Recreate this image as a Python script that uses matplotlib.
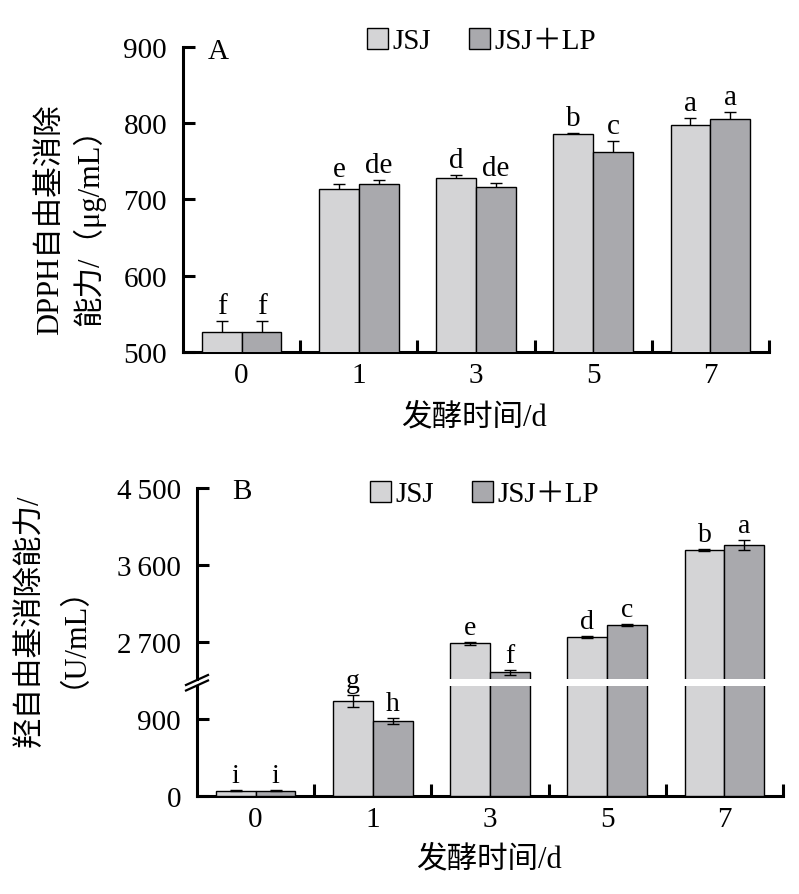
import matplotlib
matplotlib.use('Agg')
import matplotlib.pyplot as plt
from matplotlib.lines import Line2D
import numpy as np

plt.rcParams['font.family'] = ['Liberation Serif', 'Noto Sans CJK SC']
plt.rcParams['font.size'] = 21
plt.rcParams['axes.unicode_minus'] = False

# ---------------- data ----------------
days = ['0', '1', '3', '5', '7']
series = ['JSJ', 'JSJ＋LP']

dpph_jsj = [526, 714, 728, 786, 798]
dpph_jsj_err = [14, 6, 4, 1, 9]
dpph_lp = [526, 720, 716, 762, 805]
dpph_lp_err = [14, 6, 5, 15, 9]
dpph_jsj_sig = ['f', 'e', 'd', 'b', 'a']
dpph_lp_sig = ['f', 'de', 'de', 'c', 'a']

oh_jsj = [65, 1117, 2688, 2758, 3779]
oh_jsj_err = [5, 68, 20, 12, 8]
oh_lp = [65, 884, 2349, 2899, 3841]
oh_lp_err = [5, 35, 27, 12, 58]
oh_jsj_sig = ['i', 'g', 'e', 'd', 'b']
oh_lp_sig = ['i', 'h', 'f', 'c', 'a']

dpph_ticks = [500, 600, 700, 800, 900]
oh_ticks_low = [0, 900]
oh_ticks_high = [2700, 3600, 4500]
oh_tick_labels_low = ['0', '900']
oh_tick_labels_high = ['2\u2009700', '3\u2009600', '4\u2009500']

# ---------------- style ----------------
W, H = 799, 895
c1 = '#d4d4d6'
c2 = '#a9a9ad'
bw = 0.34
spw = 2.2

fig = plt.figure(figsize=(W / 100, H / 100), dpi=100)


def rect(l, r, t, b):
    return [l / W, 1 - b / H, (r - l) / W, (b - t) / H]


def draw(ax, v1, e1, v2, e2, s1, s2, err_behind, fs_sig):
    x = np.arange(len(days))
    b1 = ax.bar(x - bw / 2, v1, bw, color=c1, edgecolor='black', linewidth=1.0, zorder=3, label=series[0])
    b2 = ax.bar(x + bw / 2, v2, bw, color=c2, edgecolor='black', linewidth=1.0, zorder=3, label=series[1])
    ez = 2 if err_behind else 4
    for xx, v, e in ((x - bw / 2, v1, e1), (x + bw / 2, v2, e2)):
        ax.errorbar(xx, v, yerr=e, fmt='none', ecolor='black', elinewidth=1.0,
                    capsize=4.5, capthick=1.0, zorder=ez)
    for xx, v, e, s in ((x - bw / 2, v1, e1, s1), (x + bw / 2, v2, e2, s2)):
        for xi, vi, ei, si in zip(xx, v, e, s):
            ax.annotate(si, (xi, vi + ei), xytext=(0, 8), textcoords='offset pixels',
                        ha='center', va='baseline', fontsize=fs_sig, zorder=6)
    return b1, b2


def style_bottom(ax):
    ax.set_xlim(-0.5, 4.5)
    ax.set_xticks(np.arange(len(days)))
    ax.set_xticklabels(days)
    ax.set_xticks(np.arange(len(days)) + 0.5, minor=True)
    ax.tick_params(axis='x', which='major', length=0, pad=7)
    ax.tick_params(axis='x', which='minor', direction='in', length=8.6, width=spw)
    for s in ('top', 'right'):
        ax.spines[s].set_visible(False)
    for s in ('left', 'bottom'):
        ax.spines[s].set_linewidth(spw)
    ax.tick_params(axis='y', direction='in', length=8.6, width=spw, pad=11.5)


# ---------------- panel A ----------------
axA = fig.add_axes(rect(183, 769, 47.7, 353))
b1, b2 = draw(axA, dpph_jsj, dpph_jsj_err, dpph_lp, dpph_lp_err, dpph_jsj_sig, dpph_lp_sig, True, 21)
axA.set_ylim(500, 900)
axA.set_yticks(dpph_ticks)
style_bottom(axA)
axA.text(0.043, 0.986, 'A', transform=axA.transAxes, ha='left', va='center', fontsize=21)
axA.legend(handles=[b1, b2], loc='center left', bbox_to_anchor=((367 - 183) / 586, (353 - 42) / 305.3),
           ncol=2, frameon=False, borderpad=0, borderaxespad=0, handlelength=0.72, handleheight=0.72,
           handletextpad=0.15, columnspacing=1.3, fontsize=21)
fig.text(71 / W, 1 - 220 / H, 'DPPH自由基消除\n能力/（μg/mL）', rotation=90, ha='center', va='center',
         multialignment='center', linespacing=1.25, fontsize=22)
fig.text(474 / W, 1 - 418 / H, '发酵时间/d', ha='center', va='center', fontsize=22)

# ---------------- panel B (broken axis) ----------------
axL = fig.add_axes(rect(197, 783, 687, 797.3))
axU = fig.add_axes(rect(197, 783, 489.3, 680))
axU.patch.set_visible(False)
for ax in (axL, axU):
    bb1, bb2 = draw(ax, oh_jsj, oh_jsj_err, oh_lp, oh_lp_err, oh_jsj_sig, oh_lp_sig, False, 20)
axL.set_ylim(0, 1289)
axU.set_ylim(2271, 4500)
axL.set_yticks(oh_ticks_low)
axL.set_yticklabels(oh_tick_labels_low)
axU.set_yticks(oh_ticks_high)
axU.set_yticklabels(oh_tick_labels_high)
style_bottom(axL)
axL.spines['top'].set_visible(False)
axU.set_xlim(-0.5, 4.5)
for s in ('top', 'right', 'bottom'):
    axU.spines[s].set_visible(False)
axU.spines['left'].set_linewidth(spw)
axU.set_xticks([])
axU.tick_params(axis='y', direction='in', length=8.6, width=spw, pad=11.5)
axU.text(0.060, 0.986, 'B', transform=axU.transAxes, ha='left', va='center', fontsize=21)
axU.legend(handles=[bb1, bb2], loc='center left', bbox_to_anchor=((370 - 197) / 586, (680 - 495) / 190.7),
           ncol=2, frameon=False, borderpad=0, borderaxespad=0, handlelength=0.72, handleheight=0.72,
           handletextpad=0.15, columnspacing=1.3, fontsize=21)

# break marks on the y axis
for yc in (681, 686.5):
    fig.add_artist(Line2D([186 / W, 208 / W], [1 - (yc + 5) / H, 1 - (yc - 5) / H],
                          color='black', linewidth=1.6))

fig.text(45 / W, 1 - 621 / H, '羟自由基消除能力/\n（U/mL）', rotation=90, ha='center', va='center',
         multialignment='center', linespacing=0.93, fontsize=22)
fig.text(489 / W, 1 - 860 / H, '发酵时间/d', ha='center', va='center', fontsize=22)

fig.savefig('out.png', dpi=100)
